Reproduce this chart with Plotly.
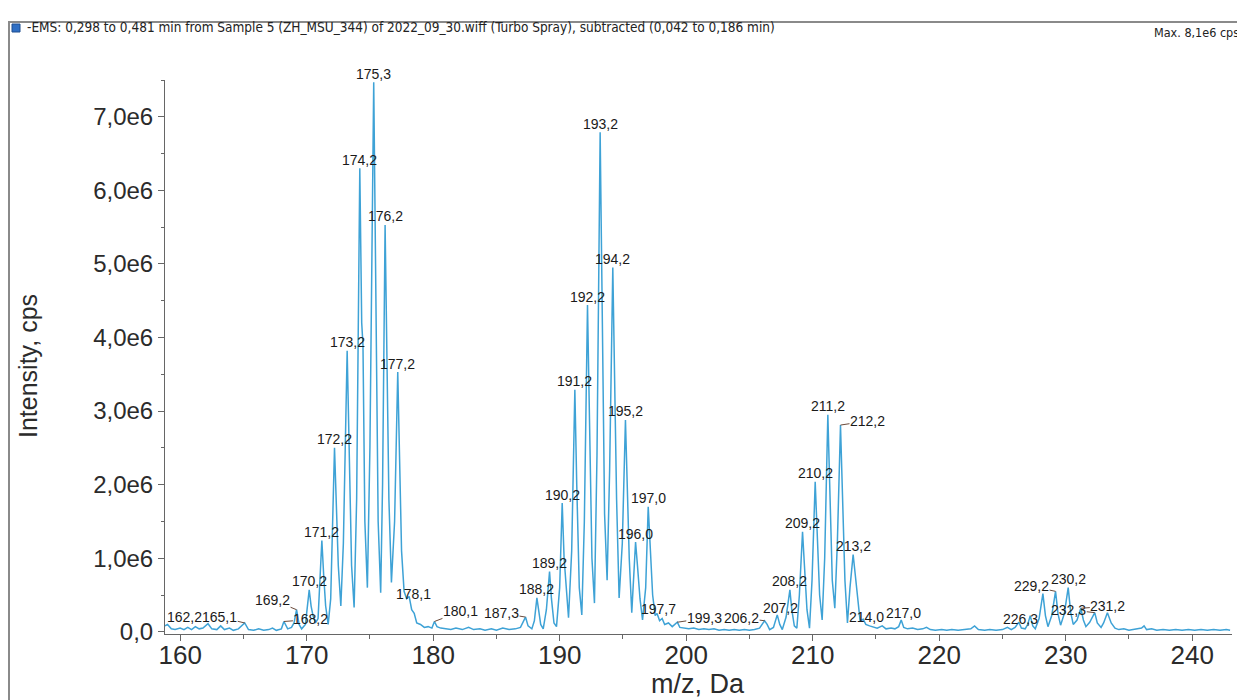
import plotly.graph_objects as go

# ---------------- data ----------------
# profile spectrum: m/z (Da) and intensity (units of 1e6 cps)
mz = [
    158.8, 159.0, 159.3, 159.6, 160.0, 160.3, 160.6, 160.9, 161.2, 161.5, 161.8, 162.2, 162.5, 162.9,
    163.2, 163.5, 163.9, 164.2, 164.6, 165.1, 165.4, 165.8, 166.2, 166.6, 167.0, 167.3, 167.6, 168.0,
    168.2, 168.5, 168.8, 169.0, 169.2, 169.4, 169.6, 169.9, 170.2, 170.35, 170.5, 170.7, 170.9, 171.2,
    171.35, 171.5, 171.7, 171.9, 172.2, 172.35, 172.5, 172.7, 172.9, 173.2, 173.35, 173.55, 173.75,
    173.95, 174.2, 174.35, 174.45, 174.6, 174.8, 175.0, 175.3, 175.45, 175.65, 175.85, 176.0, 176.2,
    176.35, 176.5, 176.7, 176.95, 177.2, 177.35, 177.5, 177.7, 177.9, 178.1, 178.3, 178.5, 178.7,
    179.0, 179.3, 179.6, 179.9, 180.1, 180.3, 180.6, 181.0, 181.4, 181.8, 182.3, 182.8, 183.2, 183.7,
    184.1, 184.6, 185.0, 185.5, 186.0, 186.5, 186.9, 187.3, 187.5, 187.8, 188.0, 188.2, 188.35, 188.5,
    188.7, 188.95, 189.2, 189.35, 189.55, 189.75, 190.0, 190.2, 190.35, 190.5, 190.7, 190.95, 191.2,
    191.35, 191.55, 191.75, 191.95, 192.2, 192.35, 192.55, 192.75, 192.95, 193.2, 193.35, 193.55,
    193.75, 193.95, 194.2, 194.35, 194.5, 194.7, 194.95, 195.2, 195.35, 195.5, 195.7, 195.85, 196.0,
    196.15, 196.35, 196.55, 196.8, 197.0, 197.15, 197.35, 197.55, 197.7, 197.9, 198.1, 198.3, 198.6,
    198.9, 199.1, 199.3, 199.5, 199.8, 200.2, 200.6, 201.0, 201.4, 201.8, 202.2, 202.6, 203.0, 203.4,
    203.8, 204.2, 204.6, 205.0, 205.4, 205.8, 206.2, 206.4, 206.6, 206.9, 207.2, 207.4, 207.6, 207.9,
    208.2, 208.35, 208.55, 208.75, 208.95, 209.2, 209.35, 209.55, 209.75, 209.95, 210.2, 210.35,
    210.55, 210.75, 210.95, 211.2, 211.35, 211.55, 211.75, 211.95, 212.2, 212.35, 212.55, 212.75,
    212.95, 213.2, 213.35, 213.55, 213.75, 214.0, 214.2, 214.5, 214.8, 215.1, 215.5, 215.8, 216.2,
    216.5, 216.8, 217.0, 217.2, 217.5, 217.9, 218.3, 218.7, 219.0, 219.3, 219.7, 220.2, 220.6, 221.0,
    221.5, 222.0, 222.5, 222.8, 223.1, 223.6, 224.0, 224.5, 225.0, 225.4, 225.7, 226.0, 226.3, 226.5,
    226.8, 227.0, 227.2, 227.4, 227.6, 227.9, 228.2, 228.4, 228.6, 228.9, 229.2, 229.4, 229.6, 229.9,
    230.2, 230.4, 230.6, 230.9, 231.2, 231.4, 231.6, 231.9, 232.3, 232.5, 232.8, 233.0, 233.3, 233.6,
    233.9, 234.2, 234.6, 235.0, 235.5, 236.0, 236.2, 236.4, 236.8, 237.2, 237.7, 238.2, 238.7, 239.2,
    239.7, 240.2, 240.7, 241.2, 241.7, 242.2, 242.7, 243.0,
]
intensity = [
    0.08, 0.10, 0.04, 0.03, 0.05, 0.03, 0.06, 0.03, 0.07, 0.04, 0.05, 0.11, 0.04, 0.03,
    0.08, 0.03, 0.05, 0.02, 0.04, 0.12, 0.03, 0.02, 0.04, 0.02, 0.03, 0.05, 0.02, 0.04,
    0.14, 0.04, 0.06, 0.12, 0.30, 0.10, 0.04, 0.10, 0.57, 0.35, 0.22, 0.12, 0.18, 1.24,
    0.75, 0.35, 0.10, 0.45, 2.50, 1.60, 0.90, 0.35, 1.20, 3.82, 2.40, 0.90, 0.33,
    1.80, 6.30, 4.20, 3.90, 1.50, 0.60, 2.50, 7.47, 4.50, 1.50, 0.53, 2.00, 5.53,
    3.90, 1.80, 0.67, 1.50, 3.53, 2.40, 1.10, 0.55, 0.45, 0.48, 0.30, 0.25, 0.12,
    0.10, 0.06, 0.07, 0.05, 0.14, 0.07, 0.05, 0.04, 0.03, 0.05, 0.03, 0.06, 0.03, 0.04,
    0.02, 0.04, 0.02, 0.05, 0.03, 0.04, 0.06, 0.20, 0.08, 0.04, 0.15, 0.46, 0.25, 0.10,
    0.04, 0.30, 0.82, 0.45, 0.12, 0.07, 0.60, 1.75, 1.00, 0.60, 0.19, 1.10, 3.29,
    2.00, 0.60, 0.23, 1.50, 4.44, 2.80, 1.00, 0.39, 2.40, 6.79, 4.20, 1.60,
    0.70, 2.20, 4.95, 3.50, 1.80, 0.46, 1.20, 2.88, 1.90, 1.00, 0.26, 0.70, 1.22,
    0.90, 0.45, 0.16, 0.60, 1.70, 1.10, 0.50, 0.22, 0.25, 0.15, 0.18, 0.10, 0.12,
    0.07, 0.10, 0.13, 0.06, 0.05, 0.04, 0.05, 0.03, 0.04, 0.03, 0.04, 0.02, 0.03, 0.02,
    0.03, 0.02, 0.03, 0.02, 0.03, 0.05, 0.15, 0.10, 0.03, 0.06, 0.23, 0.10, 0.03, 0.20,
    0.57, 0.30, 0.08, 0.05, 0.50, 1.36, 0.90, 0.30, 0.05, 0.70, 2.04, 1.30,
    0.50, 0.16, 1.00, 2.95, 1.90, 0.70, 0.32, 1.20, 2.81, 1.80, 0.70, 0.12,
    0.60, 1.05, 0.80, 0.40, 0.15, 0.17, 0.10, 0.08, 0.06, 0.05, 0.08, 0.04, 0.05,
    0.04, 0.07, 0.16, 0.06, 0.04, 0.05, 0.03, 0.04, 0.06, 0.03, 0.02, 0.03, 0.02, 0.03,
    0.02, 0.03, 0.04, 0.08, 0.03, 0.02, 0.03, 0.02, 0.03, 0.06, 0.03, 0.06, 0.13, 0.05,
    0.04, 0.10, 0.22, 0.08, 0.04, 0.18, 0.52, 0.22, 0.07, 0.22, 0.55, 0.24, 0.09, 0.25,
    0.60, 0.26, 0.10, 0.16, 0.32, 0.16, 0.07, 0.13, 0.26, 0.12, 0.06, 0.12, 0.26, 0.12,
    0.05, 0.03, 0.04, 0.02, 0.03, 0.05, 0.08, 0.03, 0.04, 0.02, 0.03, 0.02, 0.03, 0.02,
    0.03, 0.02, 0.03, 0.02, 0.03, 0.02, 0.03, 0.02,
]

# labelled peaks (m/z as printed)
peak_labels = [
    162.2, 165.1, 168.2, 169.2, 170.2, 171.2, 172.2, 173.2, 174.2, 175.3, 176.2, 177.2, 178.1,
    180.1, 187.3, 188.2, 189.2, 190.2, 191.2, 192.2, 193.2, 194.2, 195.2, 196.0, 197.0, 197.7,
    199.3, 206.2, 207.2, 208.2, 209.2, 210.2, 211.2, 212.2, 213.2, 214.0, 217.0, 226.3, 229.2,
    230.2, 232.3, 231.2,
]

x_ticks = [160, 170, 180, 190, 200, 210, 220, 230, 240]
x_tick_text = ["160", "170", "180", "190", "200", "210", "220", "230", "240"]
y_ticks = [0, 1, 2, 3, 4, 5, 6, 7]
y_tick_text = ["0,0", "1,0e6", "2,0e6", "3,0e6", "4,0e6", "5,0e6", "6,0e6", "7,0e6"]

header = ("-EMS: 0,298 to 0,481 min from Sample 5 (ZH_MSU_344) of 2022_09_30.wiff "
          "(Turbo Spray), subtracted (0,042 to 0,186 min)")
max_text = "Max. 8,1e6 cps"

# ---------------- label placement (pixel offsets, style only) ----------------
leader_offsets = {
    165.1: (-25, -6), 169.2: (-24, -10), 168.2: (27, -2), 180.1: (26, -10),
    187.3: (-24, -4), 199.3: (27, -4), 206.2: (-23, -3), 212.2: (27, -4),
    229.2: (-24, -5), 232.3: (-26, -3), 231.2: (27, -2),
}
plain_offsets = {
    162.2: (-24, -7), 178.1: (4, -2), 197.7: (1, -4), 214.0: (3, -2),
    217.0: (2, -7), 226.3: (2, -3), 207.2: (3, -7),
}

FONT = "Liberation Sans, Arial, sans-serif"
NARROW = "Liberation Sans Narrow, DejaVu Sans Condensed, Liberation Sans"
LINE = "#3ea2d6"
AX = "#666666"
TXT = "#2b2b2b"

# the page body has an 8 px margin: figure origin sits at page (8, 8)
OFF = 8
W, H = 1245 - OFF, 700 - OFF
# plot domain in page pixels
L, R, T, B = 165, 1232, 80, 634

fig = go.Figure()
fig.add_trace(go.Scatter(x=mz, y=intensity, mode="lines",
                         line=dict(color=LINE, width=1.5), hoverinfo="skip"))


def apex(m):
    i = min(range(len(mz)), key=lambda k: abs(mz[k] - m))
    return mz[i], intensity[i]


annotations = []
for m in peak_labels:
    px, py = apex(m)
    txt = f"{m:.1f}".replace(".", ",")
    f = dict(family=FONT, size=14, color="#1a1a1a")
    if m in leader_offsets:
        ax, ay = leader_offsets[m]
        annotations.append(dict(x=px, y=py, xref="x", yref="y", text=txt, font=f,
                                showarrow=True, arrowhead=0, arrowwidth=1,
                                arrowcolor="#6b4a3a", ax=ax, ay=ay, standoff=0,
                                borderpad=0))
    else:
        dx, dy = plain_offsets.get(m, (0, -8.5))
        annotations.append(dict(x=px, y=py, xref="x", yref="y", text=txt, font=f,
                                showarrow=False, xanchor="center", yanchor="middle",
                                xshift=dx, yshift=-dy))


def pxx(p):
    return (p - L) / (R - L)


def pxy(p):
    return (B - p) / (B - T)


annotations += [
    dict(x=pxx(25), y=pxy(27), xref="paper", yref="paper", text=header, showarrow=False,
         xanchor="left", yanchor="middle", font=dict(family=NARROW, size=13.5, color="#222")),
    dict(x=pxx(1152), y=pxy(33), xref="paper", yref="paper", text=max_text, showarrow=False,
         xanchor="left", yanchor="middle", font=dict(family=NARROW, size=12.5, color="#222")),
    dict(x=pxx(698), y=pxy(684), xref="paper", yref="paper", text="m/z, Da", showarrow=False,
         xanchor="center", yanchor="middle", font=dict(family=FONT, size=27, color=TXT)),
    dict(x=pxx(28), y=pxy(366), xref="paper", yref="paper", text="Intensity, cps",
         showarrow=False, textangle=-90, xanchor="center", yanchor="middle",
         font=dict(family=FONT, size=25, color=TXT)),
]

shapes = [
    dict(type="line", xref="paper", yref="paper", x0=pxx(8), x1=pxx(1250), y0=pxy(22), y1=pxy(22),
         line=dict(color="#8a8a8a", width=2)),
    dict(type="line", xref="paper", yref="paper", x0=pxx(9), x1=pxx(9), y0=pxy(22), y1=pxy(705),
         line=dict(color="#8a8a8a", width=2)),
    dict(type="rect", xref="paper", yref="paper", x0=pxx(12), x1=pxx(20), y0=pxy(32), y1=pxy(24),
         fillcolor="#2f6fc4", line=dict(color="#1f4f90", width=1)),
]

fig.update_layout(
    width=W, height=H,
    margin=dict(l=L - OFF, r=W - (R - OFF), t=T - OFF, b=H - (B - OFF), autoexpand=False),
    plot_bgcolor="white", paper_bgcolor="white", showlegend=False,
    annotations=annotations, shapes=shapes,
    xaxis=dict(range=[158.8, 243.15], showline=True, linecolor=AX, linewidth=1,
               ticks="outside", ticklen=6, tickcolor=AX, tickvals=x_ticks, ticktext=x_tick_text,
               ticklabelstandoff=-8,
               tickfont=dict(family=FONT, size=26, color=TXT), showgrid=False, zeroline=False,
               minor=dict(dtick=5, tick0=0, ticks="outside", ticklen=4, tickcolor=AX)),
    yaxis=dict(range=[-0.03, 7.5], showline=True, linecolor=AX, linewidth=1,
               ticks="outside", ticklen=6, tickcolor=AX, tickvals=y_ticks, ticktext=y_tick_text,
               tickfont=dict(family=FONT, size=24, color=TXT), showgrid=False, zeroline=False,
               minor=dict(dtick=0.5, tick0=0, ticks="outside", ticklen=3, tickcolor=AX)),
)

fig.write_html("out.html")
